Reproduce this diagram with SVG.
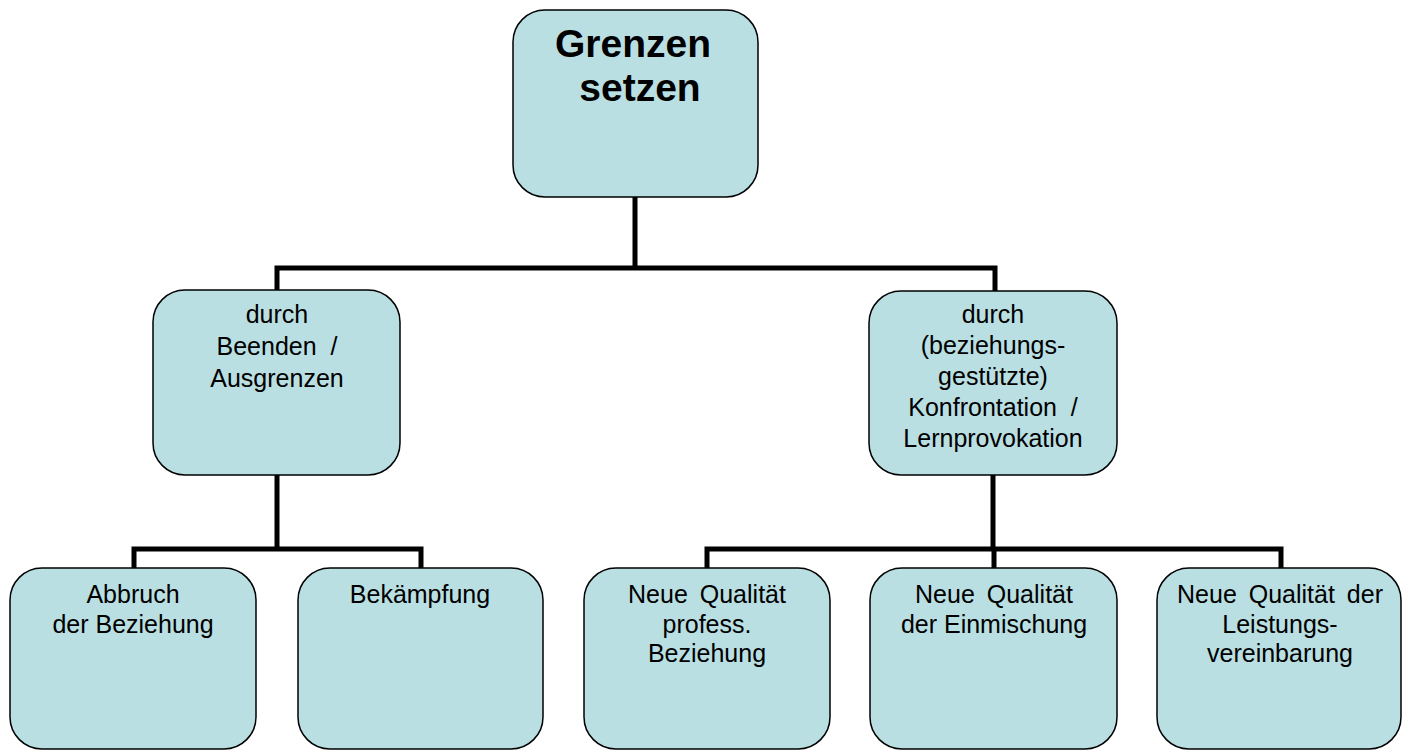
<svg xmlns="http://www.w3.org/2000/svg" width="1411" height="752" viewBox="0 0 1411 752">
<style>
.box{fill:#b9dfe2;stroke:#000;stroke-width:1.5}
.t{font-family:"Liberation Sans",Arial,sans-serif;font-size:25px;fill:#000;text-anchor:middle}
.h{font-family:"Liberation Sans",Arial,sans-serif;font-size:39px;font-weight:bold;fill:#000;text-anchor:middle}
.c{fill:none;stroke:#000;stroke-width:5;stroke-linecap:square}
</style>
<rect width="1411" height="752" fill="#fff"/>
<g id="connectors">
<path class="c" d="M635,197 V268 M277,268 H995 M277,268 V289 M995,268 V290"/>
<path class="c" d="M277,475 V549 M134,549 H421 M134,549 V567 M421,549 V567"/>
<path class="c" d="M993,475 V549 M707,549 H1281 M707,549 V567 M994,549 V567 M1281,549 V567"/>
</g>
<g id="root">
<rect class="box" x="513" y="10" width="245" height="187" rx="32"/>
<text class="h" x="633" y="57">Grenzen</text>
<text class="h" x="640" y="101">setzen</text>
</g>
<g id="mid-left">
<rect class="box" x="153" y="290" width="247" height="185" rx="32"/>
<text class="t" x="277" y="323">durch</text>
<text class="t" x="277" y="355" xml:space="preserve">Beenden  /</text>
<text class="t" x="277" y="387">Ausgrenzen</text>
</g>
<g id="mid-right">
<rect class="box" x="869" y="291" width="248" height="184" rx="32"/>
<text class="t" x="993" y="323">durch</text>
<text class="t" x="993" y="354">(beziehungs-</text>
<text class="t" x="993" y="385">gestützte)</text>
<text class="t" x="993" y="416" xml:space="preserve">Konfrontation  /</text>
<text class="t" x="993" y="447">Lernprovokation</text>
</g>
<g id="abbruch">
<rect class="box" x="10" y="568" width="246" height="181" rx="32"/>
<text class="t" x="133" y="603">Abbruch</text>
<text class="t" x="133" y="633">der Beziehung</text>
</g>
<g id="bekaempfung">
<rect class="box" x="298" y="568" width="245" height="181" rx="32"/>
<text class="t" x="420" y="603">Bekämpfung</text>
</g>
<g id="qualitaet-beziehung">
<rect class="box" x="584" y="568" width="246" height="181" rx="32"/>
<text class="t" x="707" y="603" word-spacing="5">Neue Qualität</text>
<text class="t" x="707" y="633">profess.</text>
<text class="t" x="707" y="662">Beziehung</text>
</g>
<g id="qualitaet-einmischung">
<rect class="box" x="870" y="568" width="247" height="181" rx="32"/>
<text class="t" x="994" y="603" word-spacing="5">Neue Qualität</text>
<text class="t" x="994" y="633">der Einmischung</text>
</g>
<g id="qualitaet-leistung">
<rect class="box" x="1157" y="568" width="244" height="181" rx="32"/>
<text class="t" x="1280" y="603" word-spacing="5">Neue Qualität der</text>
<text class="t" x="1280" y="633">Leistungs-</text>
<text class="t" x="1280" y="662">vereinbarung</text>
</g>
</svg>
